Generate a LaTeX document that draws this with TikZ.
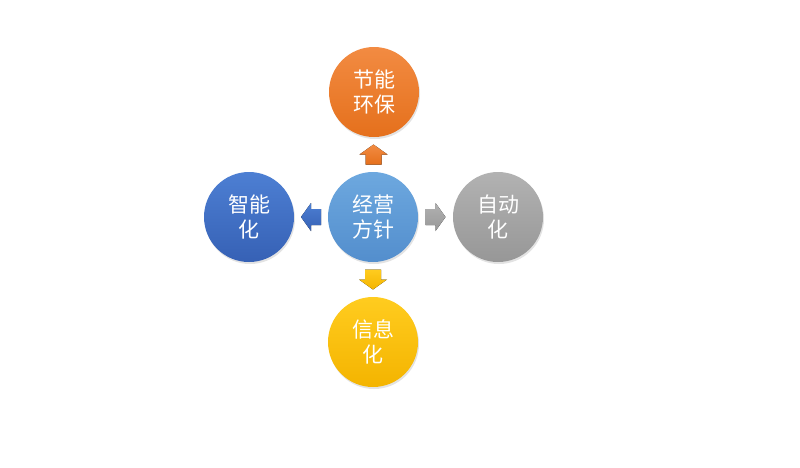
\documentclass[tikz,border=0pt]{standalone}
\usepackage{fontspec}
\newfontfamily\cjk{Noto Sans CJK SC}
\usetikzlibrary{shadows}
\definecolor{orT}{HTML}{F28B42}\definecolor{orB}{HTML}{E5701C}
\definecolor{ceT}{HTML}{6DA8DF}\definecolor{ceB}{HTML}{538ECD}
\definecolor{dbT}{HTML}{4D7FD3}\definecolor{dbB}{HTML}{3661B5}
\definecolor{grT}{HTML}{B2B2B2}\definecolor{grB}{HTML}{979797}
\definecolor{yeT}{HTML}{FFCC1F}\definecolor{yeB}{HTML}{F4B400}
\tikzset{
  ball/.style={circle, minimum size=90pt, inner sep=0pt, align=center,
    text=white, font=\cjk\fontsize{21}{25}\selectfont,
    drop shadow={opacity=0.22, shadow xshift=1pt, shadow yshift=-2pt}},
  blockarrow/.pic={\fill[pic actions] (-10pt,-8pt) -- (0pt,-8pt) -- (0pt,-14pt) -- (10pt,0pt) -- (0pt,14pt) -- (0pt,8pt) -- (-10pt,8pt) -- cycle;}
}
\begin{document}
\begin{tikzpicture}[x=1pt,y=1pt]
\useasboundingbox (0,0) rectangle (800,-467);
\node[ball, top color=ceT, bottom color=ceB] (c) at (373,-217) {经营\\方针};
\node[ball, top color=orT, bottom color=orB] (t) at (374,-92) {节能\\环保};
\node[ball, top color=dbT, bottom color=dbB] (l) at (249,-217) {智能\\化};
\node[ball, top color=grT, bottom color=grB] (r) at (498,-217) {自动\\化};
\node[ball, top color=yeT, bottom color=yeB] (b) at (373,-342) {信息\\化};
\path (c.north) -- (t.south) pic[pos=0.5, rotate=90, top color=orT, bottom color=orB] {blockarrow};
\path (c.south) -- (b.north) pic[pos=0.5, rotate=-90, top color=yeT, bottom color=yeB] {blockarrow};
\path (c.west) -- (l.east) pic[pos=0.5, rotate=180, top color=dbT, bottom color=dbB] {blockarrow};
\path (c.east) -- (r.west) pic[pos=0.5, top color=grT, bottom color=grB] {blockarrow};
\end{tikzpicture}
\end{document}
